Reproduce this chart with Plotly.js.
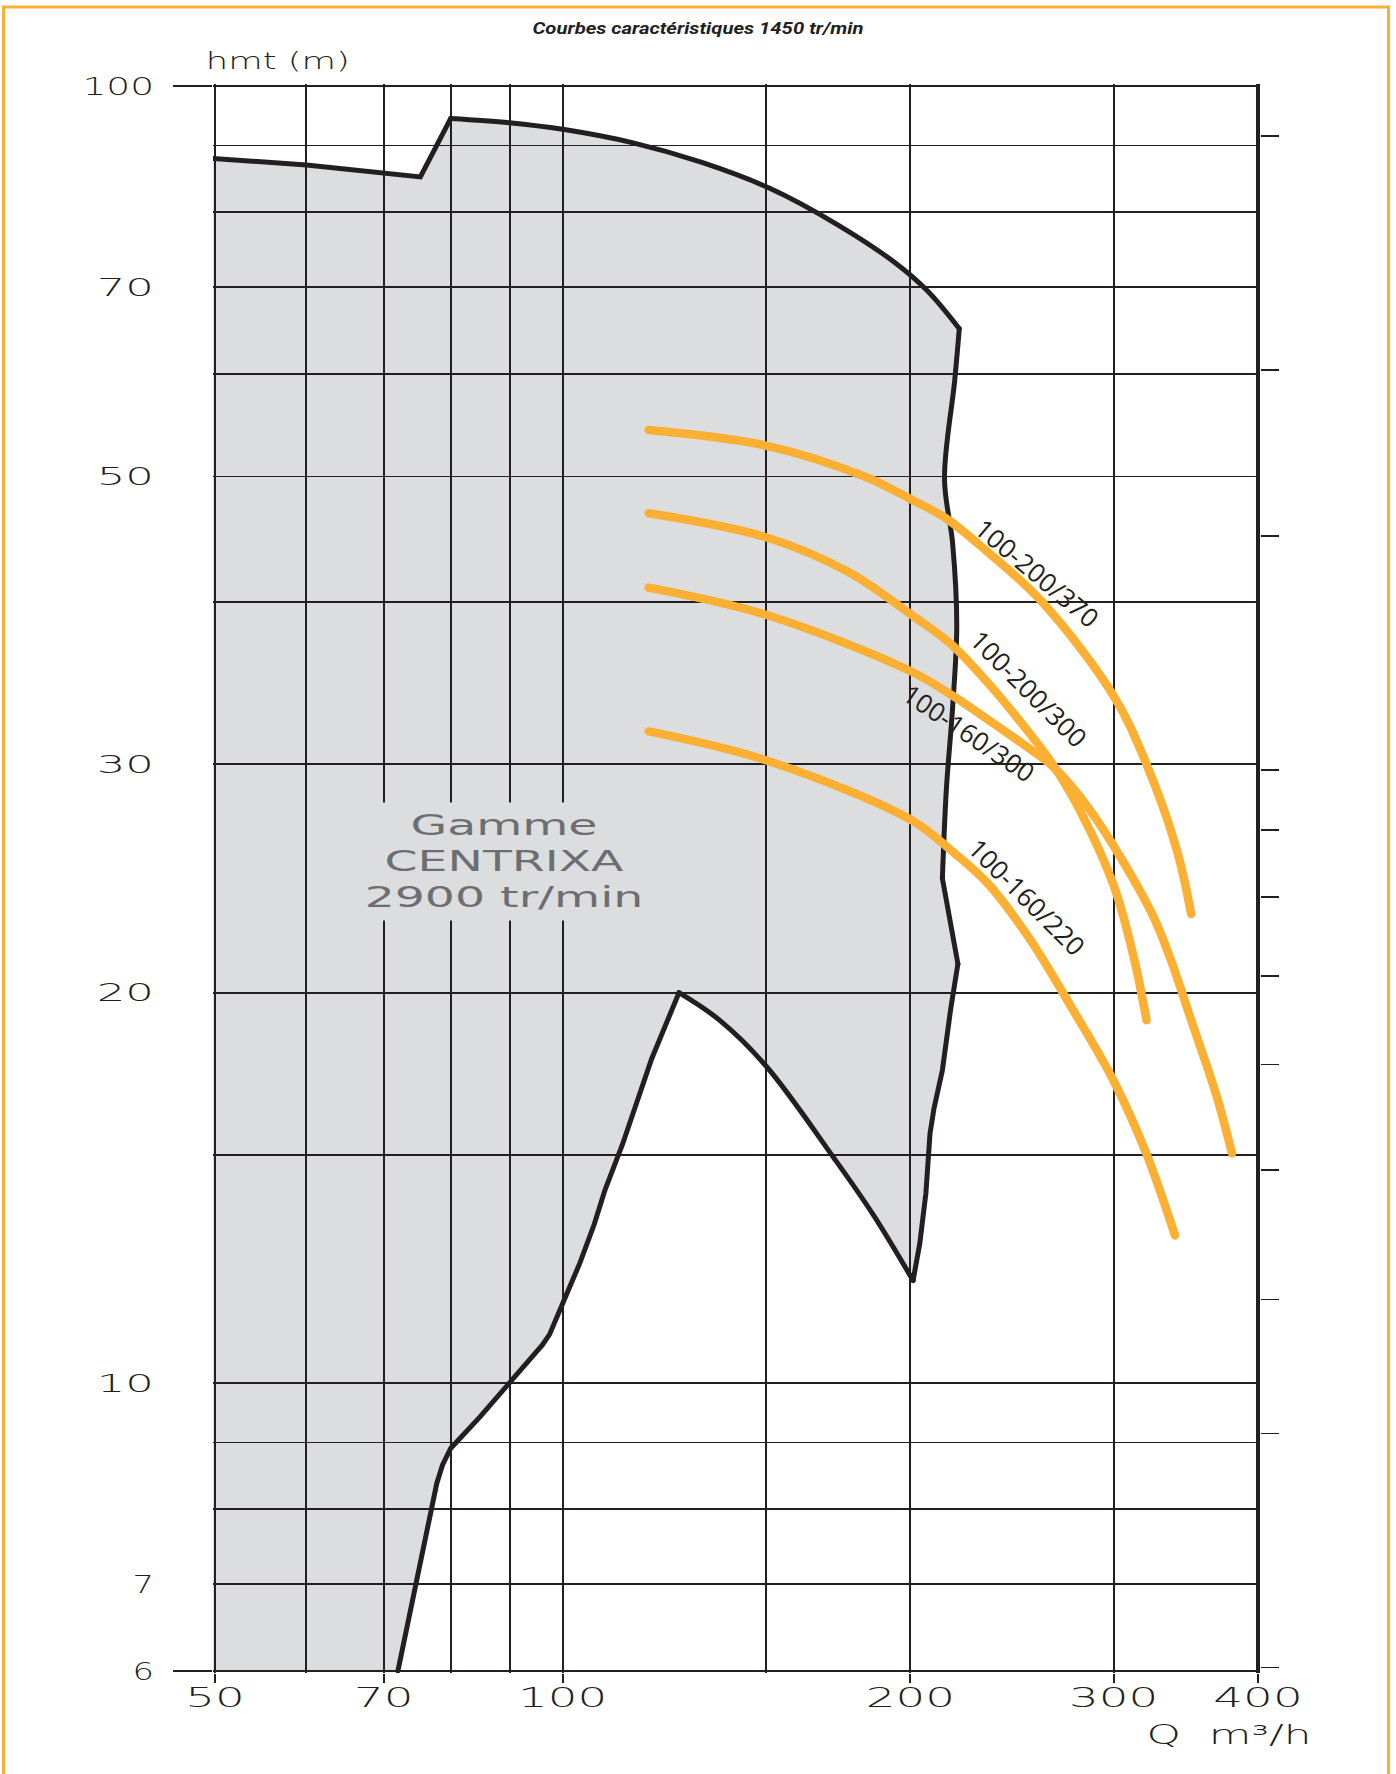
<!DOCTYPE html>
<html>
<head>
<meta charset="utf-8">
<script src="https://cdn.plot.ly/plotly-3.0.1.min.js"></script>
<style>
html,body{margin:0;padding:0;background:#ffffff;}
#chart{width:1396px;height:1774px;}
.js-line{stroke-linecap:round;}
</style>
</head>
<body>
<div id="chart"></div>
<script>
// ---------------- data ----------------
const qGrid = [50, 60, 70, 80, 90, 100, 150, 200, 300, 400];
const qLabels = [50, 70, 100, 200, 300, 400];
const hGrid = [6, 7, 8, 9, 10, 15, 20, 30, 40, 50, 60, 70, 80, 90, 100];
const hLabels = [6, 7, 10, 20, 30, 50, 70, 100];
const hFrame = [6, 100];
const hRightTicks = [91.5, 60.4, 45.0, 29.7, 26.7, 23.7, 20.6, 17.6, 14.6, 11.6, 9.15, 6.04];
const qRightEdge = [400];

// Gamme CENTRIXA 2900 tr/min : boundary of the zone
const zoneQ = [49.3, 60, 75.3, 80, 89.9, 100, 115.1, 131.8, 151.1, 172.9, 193.5, 207, 220.5,
  218.5, 214.1, 217.6, 219.4, 217.6, 214.9, 213.2, 219.9, 216.7, 213.2, 209.7, 208.0, 206.3, 203.8, 201.1,
  185.6, 171.6, 150, 136.7, 126.1,
  119.4, 112.7, 108.8, 106.5, 103.5, 100, 97.4, 96.0, 90, 84.8, 80, 78.7, 77.8, 75.1, 72.0];
const zoneH = [88.0, 86.9, 85.1, 94.4, 93.7, 92.6, 90.4, 87.35, 83.4, 78.2, 73.2, 69.5, 65.0,
  59.3, 49.8, 44.4, 38.4, 33.2, 28.7, 24.5, 21.05, 19.4, 17.43, 16.3, 15.58, 14.01, 12.81, 12.0,
  13.5, 14.93, 17.56, 19.05, 20.0,
  17.78, 15.29, 14.09, 13.26, 12.38, 11.52, 10.9, 10.7, 10.0, 9.42, 8.91, 8.65, 8.37, 7.17, 6.0];
const zoneBaseQ = [49.3];
const zoneBaseH = [6.0];

// Courbes 1450 tr/min
const c370Q = [118.7, 150.2, 182.6, 200, 214.9, 233.2, 260.2, 300.2, 320.3, 340.1, 350.1];
const c370H = [54.3, 52.8, 50.0, 48.05, 46.4, 43.75, 40.0, 33.83, 30.0, 25.8, 23.0];
const c200_300Q = [118.7, 150.2, 176.8, 200, 216.7, 233.2, 252.9, 265.6, 278.8, 300.2, 312.6, 320.3];
const c200_300H = [46.84, 44.87, 42.2, 39.17, 37.16, 34.7, 31.8, 30.0, 27.92, 24.15, 21.2, 19.05];
const c160_300Q = [118.7, 150.2, 200, 216.7, 233.2, 252.9, 265.6, 285.8, 322.9, 336.2, 350.1, 367.7, 379.8];
const c160_300H = [41.05, 39.1, 35.4, 33.96, 32.5, 30.9, 29.9, 27.7, 23.13, 21.2, 19.05, 16.73, 15.04];
const c220Q = [118.7, 150.2, 200, 216.7, 233.2, 252.9, 276.6, 300, 320, 339];
const c220H = [31.8, 30.2, 27.2, 25.77, 24.3, 22.1, 19.4, 17.1, 15.05, 13.0];

const curveNames = ['100-200/370', '100-200/300', '100-160/300', '100-160/220'];

// ---------------- geometry & style ----------------
const W = 1396, H = 1774;
const LOG = Math.log10;
const PX = {q50: 215, q400: 1258, h100: 85.5, h6: 1670.9};
const PAD = 2;
const kx = (PX.q400 - PX.q50) / (LOG(400) - LOG(50));
const ky = (PX.h6 - PX.h100) / (LOG(100) - LOG(6));
const xRange = [LOG(50) - PAD / kx, LOG(400) + PAD / kx];
const yRange = [LOG(6) - PAD / ky, LOG(100) + PAD / ky];
const margin = {l: PX.q50 - PAD, r: W - PX.q400 - PAD, t: PX.h100 - PAD, b: H - PX.h6 - PAD, pad: 0};
const pw = W - margin.l - margin.r, ph = H - margin.t - margin.b;
const pxX = px => (px - margin.l) / pw;
const pxY = py => (H - margin.b - py) / ph;

const INK = '#231f20';
const GRAY = '#dcdddf';
const ORANGE = '#fbb034';
const LABEL_FONT = {family: 'DejaVu Sans', weight: 200, color: INK};

const baseAx = {type: 'log', fixedrange: true, zeroline: false, showline: false, visible: true};

const layout = {
  width: W, height: H, margin: margin,
  paper_bgcolor: '#ffffff', plot_bgcolor: 'rgba(0,0,0,0)',
  showlegend: false, hovermode: false,
  title: {
    text: 'Courbes caractéristiques 1450 tr/min',
    x: 0.5, xref: 'container', xanchor: 'center',
    y: 1 - 28 / H, yref: 'container', yanchor: 'middle',
    font: {family: 'Roboto, "Open Sans", sans-serif', size: 17, weight: 700, style: 'italic', color: INK}
  },
  xaxis: {...baseAx, range: xRange, visible: false, domain: [0, 1]},
  yaxis: {...baseAx, range: yRange, visible: false, domain: [0, 1]},
  xaxis2: {...baseAx, range: xRange, anchor: 'y2', domain: [0, 1], tickmode: 'array', tickvals: qGrid,
    showticklabels: false, ticks: '', showgrid: true, gridcolor: INK, gridwidth: 2},
  yaxis2: {...baseAx, range: yRange, anchor: 'x2', domain: [0, 1], tickmode: 'array', tickvals: hGrid,
    ticktext: hGrid.map(v => hLabels.includes(v) ? String(v) : ''),
    ticks: '', showgrid: true, gridcolor: INK, gridwidth: 1.6,
    tickfont: {...LABEL_FONT, size: 25}, ticklabelstandoff: 58},
  xaxis3: {...baseAx, range: xRange, overlaying: 'x2', anchor: 'y2', side: 'bottom',
    tickmode: 'array', tickvals: qLabels, ticktext: qLabels.map(String),
    ticks: 'outside', ticklen: 9, tickwidth: 2, tickcolor: INK, showgrid: false,
    tickfont: {...LABEL_FONT, size: 26}, ticklabelstandoff: -7},
  yaxis3: {...baseAx, range: yRange, overlaying: 'y2', anchor: 'x2', side: 'left',
    tickmode: 'array', tickvals: hFrame, ticks: 'outside', ticklen: 39, tickwidth: 1.6,
    tickcolor: INK, showticklabels: false, showgrid: false},
  yaxis4: {...baseAx, range: yRange, overlaying: 'y2', anchor: 'x2', side: 'right',
    tickmode: 'array', tickvals: hRightTicks, ticks: 'outside', ticklen: 18, tickwidth: 1.5,
    tickcolor: INK, showticklabels: false, showgrid: false},
  xaxis4: {...baseAx, range: xRange, overlaying: 'x2', anchor: 'y2', side: 'bottom',
    tickmode: 'array', tickvals: qRightEdge, ticks: '', showticklabels: false,
    showgrid: true, gridcolor: INK, gridwidth: 3.5},
  shapes: [{
    type: 'rect', xref: 'paper', yref: 'paper', layer: 'above',
    x0: pxX(3.5), x1: pxX(1388.5), y0: pxY(1800), y1: pxY(6.5),
    line: {color: ORANGE, width: 3}, fillcolor: 'rgba(0,0,0,0)'
  }],
  annotations: [
    {text: 'hmt (m)', xref: 'paper', yref: 'paper', x: pxX(277.5), y: pxY(60),
      xanchor: 'center', yanchor: 'middle', showarrow: false, font: {...LABEL_FONT, size: 23}},
    {text: 'Q\u00a0\u00a0m³/h', xref: 'paper', yref: 'paper', x: pxX(1228.5), y: pxY(1735),
      xanchor: 'center', yanchor: 'middle', showarrow: false, font: {...LABEL_FONT, size: 26}},
    {text: 'Gamme<br>CENTRIXA<br>2900 tr/min', xref: 'x2', yref: 'y2', x: LOG(89.0), y: LOG(25.23),
      xanchor: 'center', yanchor: 'middle', showarrow: false, width: 300, height: 117,
      bgcolor: GRAY, borderpad: 0,
      font: {family: 'DejaVu Sans', size: 28, color: '#6d6e71'}},
    {text: curveNames[0], xref: 'x2', yref: 'y2', x: LOG(257.6), y: LOG(42.1), textangle: 40,
      showarrow: false, font: {family: '"Open Sans", sans-serif', size: 26, color: INK}},
    {text: curveNames[1], xref: 'x2', yref: 'y2', x: LOG(253.5), y: LOG(34.3), textangle: 45,
      showarrow: false, font: {family: '"Open Sans", sans-serif', size: 26, color: INK}},
    {text: curveNames[2], xref: 'x2', yref: 'y2', x: LOG(224.8), y: LOG(31.7), textangle: 34,
      showarrow: false, font: {family: '"Open Sans", sans-serif', size: 26, color: INK}},
    {text: curveNames[3], xref: 'x2', yref: 'y2', x: LOG(252.4), y: LOG(23.7), textangle: 45,
      showarrow: false, font: {family: '"Open Sans", sans-serif', size: 26, color: INK}}
  ]
};

// outline pieces: [from index, to index, line shape]
const zoneSegments = [[0, 3, 'linear'], [3, 12, 'spline'], [12, 19, 'spline'], [19, 20, 'linear'],
  [20, 27, 'linear'], [27, 32, 'spline'], [32, 47, 'linear']];

const curveLine = {color: ORANGE, width: 8.5, shape: 'spline', smoothing: 1};
const traces = [
  {x: zoneQ.concat(zoneBaseQ), y: zoneH.concat(zoneBaseH), xaxis: 'x', yaxis: 'y',
    mode: 'lines', fill: 'toself', fillcolor: GRAY, line: {width: 0, color: GRAY}, hoverinfo: 'skip'}
];
zoneSegments.forEach(([a, b, shape]) => traces.push({
  x: zoneQ.slice(a, b + 1), y: zoneH.slice(a, b + 1), xaxis: 'x2', yaxis: 'y2', mode: 'lines',
  line: {color: INK, width: 5, shape: shape, smoothing: 1}, hoverinfo: 'skip'
}));
[[c370Q, c370H], [c200_300Q, c200_300H], [c160_300Q, c160_300H], [c220Q, c220H]].forEach(([q, h], i) =>
  traces.push({x: q, y: h, xaxis: 'x2', yaxis: 'y2', mode: 'lines', line: {...curveLine}, name: curveNames[i]}));

// invisible carriers so that the overlaid tick axes are built
const ghost = {mode: 'markers', marker: {opacity: 0, size: 1}, hoverinfo: 'skip'};
traces.push({...ghost, x: qLabels, y: qLabels.map(() => hFrame[1]), xaxis: 'x3', yaxis: 'y2'});
traces.push({...ghost, x: hFrame.map(() => qGrid[0]), y: hFrame, xaxis: 'x2', yaxis: 'y3'});
traces.push({...ghost, x: hRightTicks.map(() => qGrid[0]), y: hRightTicks, xaxis: 'x2', yaxis: 'y4'});
traces.push({...ghost, x: qRightEdge, y: [hFrame[1]], xaxis: 'x4', yaxis: 'y2'});

// widen glyphs to mimic the extended lettering of the original
function stretch(el, target) {
  const w = el.getComputedTextLength();
  if (w > 0) {
    el.setAttribute('textLength', typeof target === 'function' ? target(w) : target);
    el.setAttribute('lengthAdjust', 'spacingAndGlyphs');
  }
}
const yStretch = {1: 1.35, 2: 1.8, 3: 1.5};
Plotly.newPlot('chart', traces, layout, {staticPlot: true, displayModeBar: false}).then(gd => {
  gd.querySelectorAll('.x3tick text').forEach(t => stretch(t, w => w * 1.8));
  gd.querySelectorAll('.y2tick text').forEach(t => {
    const n = (t.textContent || '').length;
    if (n) stretch(t, w => w * (yStretch[n] || 1.5));
  });
  const ann = i => gd.querySelector('.annotation[data-index="' + i + '"] text.annotation-text');
  const a0 = ann(0); if (a0) stretch(a0, 144);
  const a1 = ann(1); if (a1) stretch(a1, 165);
  const a2 = ann(2);
  if (a2) {
    const lines = a2.querySelectorAll('tspan.line');
    if (lines.length) lines.forEach(l => stretch(l, w => w * 1.69));
    else stretch(a2, w => w * 1.69);
  }
  const tt = gd.querySelector('.gtitle');
  if (tt) stretch(tt, 331);
});
</script>
</body>
</html>
